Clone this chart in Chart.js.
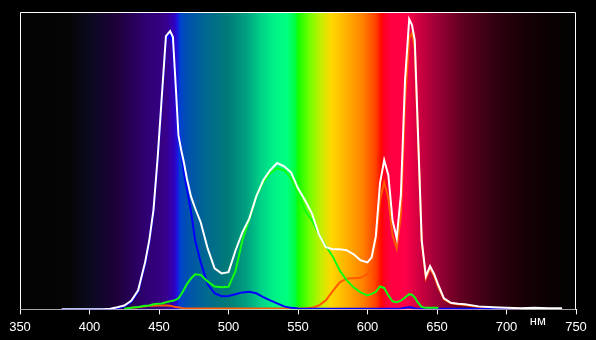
<!DOCTYPE html>
<html>
<head>
<meta charset="utf-8">
<script src="https://cdn.jsdelivr.net/npm/chart.js@4"></script>
<style>
    html, body { margin: 0; padding: 0; background: #000; }
    canvas { display: block; }
</style>
</head>
<body>
<canvas id="c" width="596" height="340"></canvas>
<script>
// wavelength grid, nm
var wavelengths = [380, 390, 400, 410, 415, 420, 425, 430, 435, 440, 443, 446, 449, 452, 455, 458, 460, 462, 464, 466,
    468, 470, 473, 476, 480, 485, 490, 495, 500, 505, 510, 515, 520, 525, 530, 535, 540, 545, 550, 555,
    560, 565, 570, 575, 580, 585, 590, 595, 600, 603, 606, 609, 612, 615, 618, 621, 624, 627, 630, 632,
    634, 636, 639, 642, 645, 648, 651, 655, 660, 665, 670, 680, 690, 700, 710, 720, 730, 740];

// total (white)
var whiteSpec = [0, 0, 0, 0, 0.2, 0.7, 1.3, 2.9, 6.4, 15.8, 23.2, 33.3, 50.8, 71.4, 91.9, 93.6, 91.6, 75.4, 58.6, 53.5,
    49.2, 44.1, 38.0, 34.0, 29.3, 20.5, 13.8, 12.1, 12.5, 19.7, 25.9, 30.6, 38.0, 43.4, 46.8, 49.2, 48.1, 46.1, 40.7, 36.7,
    32.3, 25.3, 20.9, 20.2, 20.2, 19.9, 18.5, 16.5, 15.8, 17.5, 24.6, 42.4, 50.2, 45.1, 30.0, 23.9, 38.4, 77.1, 97.6, 95.6,
    90.6, 63.6, 23.2, 11.1, 14.5, 11.8, 8.1, 3.7, 2.2, 1.9, 1.7, 1.0, 0.7, 0.5, 0.4, 0.5, 0.4, 0.4];

var blueSpec = [0, 0, 0, 0, 0.1, 0.4, 1.0, 2.5, 6.0, 15.0, 22.5, 32.5, 50.0, 70.5, 90.5, 92.5, 89.0, 74.4, 60.3, 52.9,
    45.8, 40.7, 33.0, 23.2, 15.8, 8.4, 5.4, 4.4, 4.5, 5.1, 5.7, 5.9, 5.4, 4.1, 3.0, 2.0, 1.0, 0.5, 0.3, 0.2,
    0.2, 0.2, 0.2, 0.2, 0.2, 0.2, 0.2, 0.2, 0.2, 0.2, 0.2, 0.2, 0.2, 0.2, 0.2, 0.2, 0.3, 0.5, 0.7, 0.6,
    0.3, 0.2, 0.2, 0.2, 0.2, 0.2, 0.2, 0.2, 0.2, 0.2, 0.2, 0.2, 0.2, 0.2, 0.2, null, null, null];

var greenSpec = [null, null, null, null, null, null, 0.2, 0.5, 0.8, 1.2, 1.3, 1.7, 1.9, 2.0, 2.4, 2.7, 2.9, 3.2, 3.7, 5.1,
    6.7, 8.4, 10.4, 11.8, 11.6, 9.4, 7.7, 7.4, 7.6, 12.8, 23.2, 30.3, 38.0, 42.8, 45.8, 47.5, 46.8, 44.1, 39.1, 33.3,
    30.0, 25.3, 21.2, 17.8, 13.1, 9.8, 7.4, 5.7, 4.7, 5.2, 5.9, 7.7, 7.2, 4.7, 2.7, 2.4, 2.9, 4.0, 5.1, 4.9,
    4.0, 2.4, 0.8, 0.5, 0.5, 0.5, 0.5, null, null, null, null, null, null, null, null, null, null, null];

var redSpec = [null, null, null, null, null, null, null, 0.5, 0.7, 1.0, 1.2, 1.2, 1.3, 1.3, 1.3, 1.2, 1.0, 0.8, 0.7, 0.5,
    0.3, 0.3, 0.3, 0.3, 0.3, 0.3, 0.3, 0.3, 0.3, 0.3, 0.3, 0.3, 0.3, 0.3, 0.3, 0.3, 0.3, 0.3, 0.3, 0.3,
    0.5, 1.3, 3.0, 6.1, 9.1, 10.3, 10.5, 10.6, 11.8, 15.2, 23.2, 36.7, 42.8, 37.4, 24.9, 20.5, 31.6, 70.4, 91.2, 92.9,
    87.9, 62.0, 22.6, 10.4, 13.8, 11.1, 7.4, 3.4, 2.0, 1.7, 1.5, 0.8, 0.5, 0.3, 0.3, null, null, null];

var xTicks = [350, 400, 450, 500, 550, 600, 650, 700, 750];

// visible spectrum behind the plot: [nm, colour]
var spectrumStops = [
    [350, '#040404'], [385, '#050505'], [400, '#0a0a1e'], [420, '#1e003c'], [440, '#2e0070'], [455, '#380088'],
    [461, '#3000c0'], [463.5, '#1818e0'], [465, '#0040d0'], [470, '#0050b0'], [484, '#006890'], [499, '#007a78'],
    [513, '#00a080'], [523, '#00d088'], [532, '#00f088'], [542, '#00ff80'], [548, '#00ff40'], [550, '#10ff00'],
    [558, '#70ff00'], [566, '#c0f000'], [574, '#ffd800'], [587, '#ffa800'], [597, '#ff8000'], [606, '#ff4000'],
    [610, '#ff0800'], [612, '#ff0020'], [616, '#ff0040'], [627, '#ff0048'], [637, '#d00040'], [649, '#a00038'],
    [668, '#600020'], [692, '#300010'], [716, '#140004'], [740, '#060202'], [750, '#040404']
];

function pairs(arr) {
    return wavelengths.map(function(w, i) { return { x: w, y: arr[i] }; });
}

var spectrumBg = {
    id: 'spectrumBg',
    beforeDatasetsDraw: function(chart) {
        var ctx = chart.ctx, a = chart.chartArea, xs = chart.scales.x;
        var g = ctx.createLinearGradient(a.left, 0, a.right, 0);
        var w = a.right - a.left;
        spectrumStops.forEach(function(s) {
            var p = (xs.getPixelForValue(s[0]) - a.left) / w;
            g.addColorStop(Math.min(1, Math.max(0, p)), s[1]);
        });
        ctx.save();
        ctx.fillStyle = g;
        ctx.fillRect(a.left, a.top, w, a.bottom - a.top);
        ctx.strokeStyle = '#fff';
        ctx.lineWidth = 1;
        ctx.beginPath();
        ctx.moveTo(a.left + 0.5, a.bottom);
        ctx.lineTo(a.left + 0.5, a.top + 0.5);
        ctx.lineTo(a.right - 0.5, a.top + 0.5);
        ctx.lineTo(a.right - 0.5, a.bottom);
        ctx.stroke();
        ctx.restore();
    },
    afterDraw: function(chart) {
        var ctx = chart.ctx, xs = chart.scales.x;
        ctx.save();
        ctx.fillStyle = '#fff';
        ctx.font = '13px "Liberation Sans", Arial, sans-serif';
        ctx.textAlign = 'center';
        ctx.textBaseline = 'alphabetic';
        ctx.fillText('нм', xs.getPixelForValue(722.5), 325);
        ctx.restore();
    }
};

function line(label, data, color, order) {
    return { label: label, data: pairs(data), borderColor: color, backgroundColor: color, borderWidth: 2,
        pointRadius: 0, tension: 0, fill: false, order: order };
}

new Chart(document.getElementById('c'), {
    type: 'line',
    data: { datasets: [
        line('white', whiteSpec, '#ffffff', 0),
        line('green', greenSpec, '#10ff10', 1),
        line('blue', blueSpec, '#0000ff', 2),
        line('red', redSpec, '#ff5a00', 3)
    ] },
    options: {
        responsive: false, animation: false, devicePixelRatio: 1,
        layout: { padding: { left: 20, right: 20, top: 12, bottom: 0 } },
        plugins: { legend: { display: false }, tooltip: { enabled: false } },
        scales: {
            x: {
                type: 'linear', min: 350, max: 750,
                afterBuildTicks: function(s) { s.ticks = xTicks.map(function(v) { return { value: v }; }); },
                grid: { drawOnChartArea: false, color: '#fff', tickLength: 5, lineWidth: 1 },
                border: { color: '#fff', width: 1 },
                ticks: { color: '#fff', padding: 6, maxRotation: 0, autoSkip: false,
                    font: { family: '"Liberation Sans", Arial, sans-serif', size: 13, lineHeight: 1.05 } }
            },
            y: { display: false, min: 0, max: 100 }
        }
    },
    plugins: [spectrumBg]
});
</script>
</body>
</html>
